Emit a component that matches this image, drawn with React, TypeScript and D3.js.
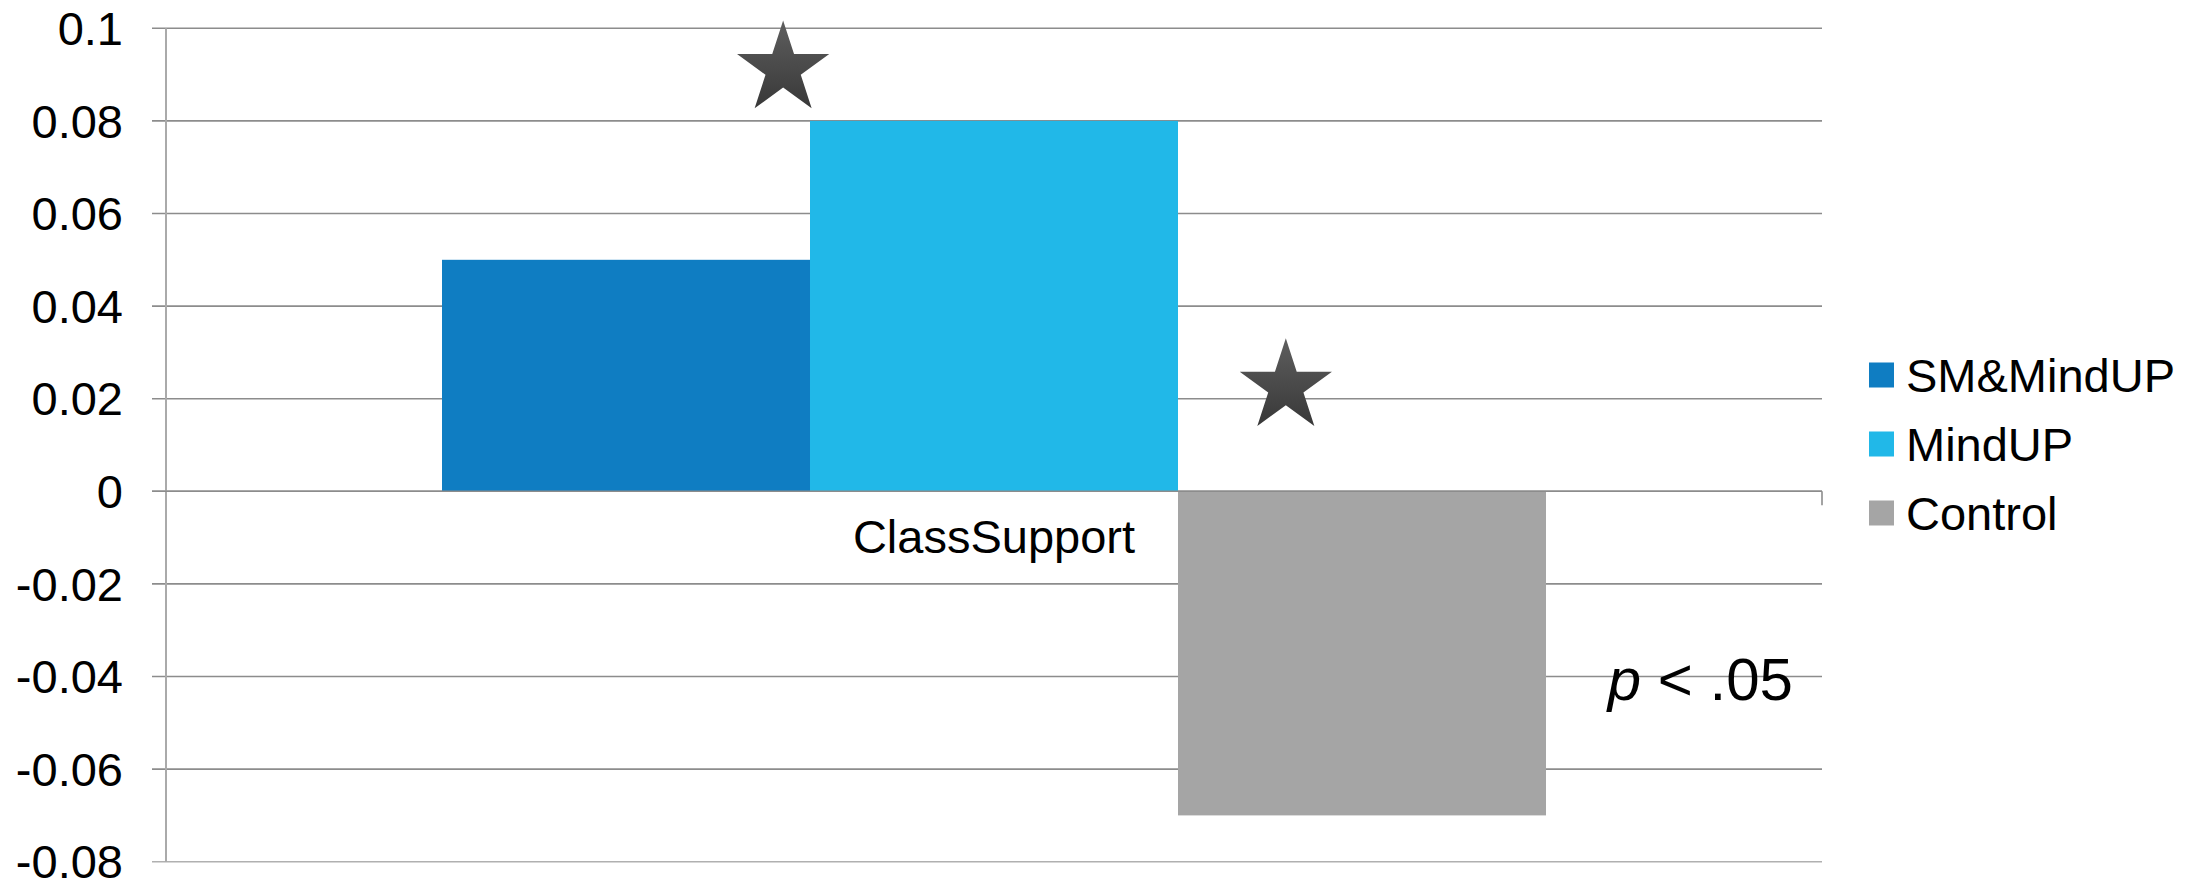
import React from "react";
import * as d3 from "d3";

const categories = ["ClassSupport"];
const seriesNames = ["SM&MindUP", "MindUP", "Control"];
const seriesColors = ["#0F7DC2", "#21B8E8", "#A5A5A5"];
const classSupportValues = [0.05, 0.08, -0.07];
const yTicks = [0.1, 0.08, 0.06, 0.04, 0.02, 0, -0.02, -0.04, -0.06, -0.08];
const tickLabels = ["0.1", "0.08", "0.06", "0.04", "0.02", "0", "-0.02", "-0.04", "-0.06", "-0.08"];
// significance stars: attached to a series bar, offset as a fraction of bar width, at a value
const starSeries = ["MindUP", "Control"];
const starOffsets = [-0.073, 0.293];
const starValues = [0.0912, 0.0226];

const W = 2206;
const H = 881;
const FONT = "'Liberation Sans', Arial, Helvetica, sans-serif";

function starPath(cx: number, cy: number, R: number) {
  const r = R * 0.382;
  const pts: [number, number][] = [];
  for (let i = 0; i < 10; i++) {
    const a = -Math.PI / 2 + (i * Math.PI) / 5;
    const rad = i % 2 === 0 ? R : r;
    pts.push([cx + rad * Math.cos(a), cy + rad * Math.sin(a)]);
  }
  return d3.line()(pts) + "Z";
}

export default function App() {
  const left = 166;
  const right = 1822;
  const y = d3.scaleLinear().domain([-0.08, 0.1]).range([861.7, 28.3]);
  const x0 = d3.scaleBand<string>().domain(categories).range([left, right]).padding(0);
  const x1 = d3
    .scaleBand<string>()
    .domain(seriesNames)
    .range([0, x0.bandwidth()])
    .paddingInner(0)
    .paddingOuter(0.75);
  const bw = x1.bandwidth();
  const cat = categories[0];
  const gx = x0(cat)!;

  return (
    <svg
      width={W}
      height={H}
      style={{ position: "absolute", left: 0, top: 0, background: "#fff" }}
      fontFamily={FONT}
    >
      <defs>
        <linearGradient id="starGrad" x1="0" y1="0" x2="0" y2="1">
          <stop offset="0%" stopColor="#5e5e5e" />
          <stop offset="100%" stopColor="#383838" />
        </linearGradient>
      </defs>
      {/* gridlines */}
      {yTicks.map((t, i) => (
        <line
          key={"g" + i}
          x1={152}
          x2={right}
          y1={y(t)}
          y2={y(t)}
          stroke={t === -0.08 ? "#b0b0b0" : "#8c8c8c"}
          strokeWidth={1.6}
        />
      ))}
      {/* y axis line */}
      <line x1={left} x2={left} y1={y(0.1)} y2={y(-0.08)} stroke="#aaaaaa" strokeWidth={2} />
      {/* tick labels */}
      {yTicks.map((t, i) => (
        <text
          key={"t" + i}
          x={123}
          y={y(t)}
          dy="0.355em"
          textAnchor="end"
          fontSize={47}
          fill="#000"
        >
          {tickLabels[i]}
        </text>
      ))}
      {/* bars */}
      {seriesNames.map((s, i) => {
        const v = classSupportValues[i];
        const y0 = y(0);
        const yv = y(v);
        return (
          <rect
            key={"b" + i}
            x={gx + x1(s)!}
            y={Math.min(y0, yv)}
            width={bw}
            height={Math.abs(yv - y0)}
            fill={seriesColors[i]}
          />
        );
      })}
      {/* zero axis line and end tick */}
      <line x1={152} x2={right} y1={y(0)} y2={y(0)} stroke="#8c8c8c" strokeWidth={1.6} />
      <line x1={right} x2={right} y1={y(0)} y2={y(0) + 14} stroke="#8c8c8c" strokeWidth={1.6} />
      {/* category label */}
      <text x={gx + x0.bandwidth() / 2} y={553} textAnchor="middle" fontSize={47} fill="#000">
        {cat}
      </text>
      {/* stars */}
      {starSeries.map((s, i) => (
        <path
          key={"s" + i}
          d={starPath(gx + x1(s)! + starOffsets[i] * bw, y(starValues[i]), 48.5)}
          fill="url(#starGrad)"
        />
      ))}
      {/* p < .05 */}
      <text x={1793} y={y(-0.04) + 23} textAnchor="end" fontSize={60} fill="#000">
        <tspan fontStyle="italic">p</tspan>
        <tspan>{" < .05"}</tspan>
      </text>
      {/* legend */}
      {seriesNames.map((s, i) => {
        const cy = 375 + i * 69;
        return (
          <g key={"l" + i}>
            <rect x={1869} y={cy - 12.5} width={25} height={25} fill={seriesColors[i]} />
            <text x={1906} y={cy} dy="0.36em" fontSize={47} fill="#000">
              {s}
            </text>
          </g>
        );
      })}
    </svg>
  );
}
